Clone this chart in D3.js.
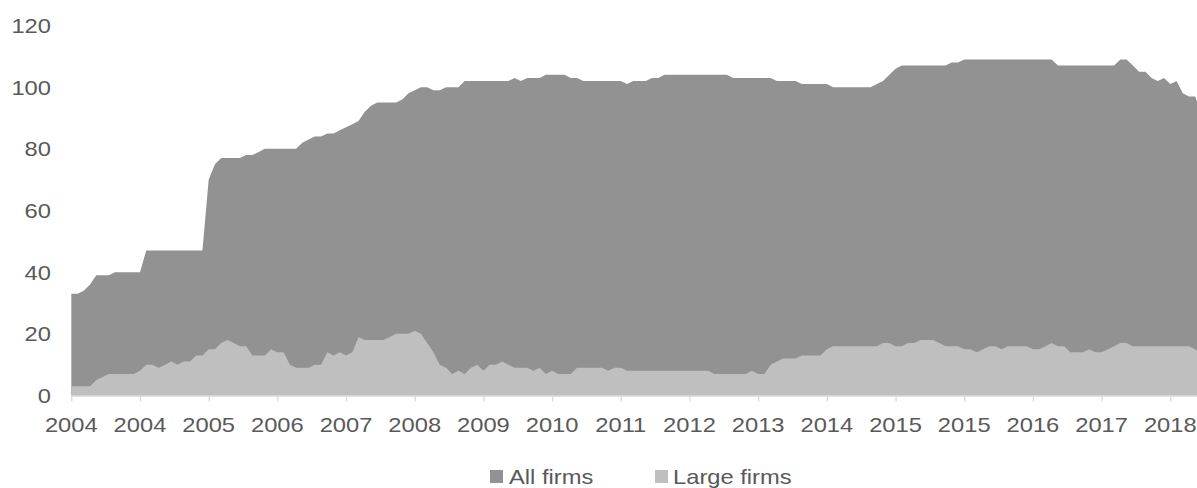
<!DOCTYPE html>
<html><head><meta charset="utf-8">
<script src="https://cdn.jsdelivr.net/npm/d3@7"></script>
<style>html,body{margin:0;padding:0;background:#fff;} svg{display:block;}</style>
</head><body><svg id="c" width="1197" height="488"></svg>
<script>
// ---- data (monthly, starting Jan 2004) ----
const startYear = 2004;
const allFirms = [
  33,33,34,36,39,39,39,40,40,40,40,40,
  47,47,47,47,47,47,47,47,47,47,70,75,
  77,77,77,77,78,78,79,80,80,80,80,80,
  80,82,83,84,84,85,85,86,87,88,89,92,
  94,95,95,95,95,96,98,99,100,100,99,99,
  100,100,100,102,102,102,102,102,102,102,102,103,
  102,103,103,103,104,104,104,104,103,103,102,102,
  102,102,102,102,102,101,102,102,102,103,103,104,
  104,104,104,104,104,104,104,104,104,104,103,103,
  103,103,103,103,103,102,102,102,102,101,101,101,
  101,101,100,100,100,100,100,100,100,101,102,104,
  106,107,107,107,107,107,107,107,107,108,108,109,
  109,109,109,109,109,109,109,109,109,109,109,109,
  109,109,107,107,107,107,107,107,107,107,107,107,
  109,109,107,105,105,103,102,103,101,102,98,97,
  97,91
];
const largeFirms = [
  3,3,3,3,5,6,7,7,7,7,7,8,
  10,10,9,10,11,10,11,11,13,13,15,15,
  17,18,17,16,16,13,13,13,15,14,14,10,
  9,9,9,10,10,14,13,14,13,14,19,18,
  18,18,18,19,20,20,20,21,20,17,14,10,
  9,7,8,7,9,10,8,10,10,11,10,9,
  9,9,8,9,7,8,7,7,7,9,9,9,
  9,9,8,9,9,8,8,8,8,8,8,8,
  8,8,8,8,8,8,8,7,7,7,7,7,
  7,8,7,7,10,11,12,12,12,13,13,13,
  13,15,16,16,16,16,16,16,16,16,17,17,
  16,16,17,17,18,18,18,17,16,16,16,15,
  15,14,15,16,16,15,16,16,16,16,15,15,
  16,17,16,16,14,14,14,15,14,14,15,16,
  17,17,16,16,16,16,16,16,16,16,16,16,
  15,13
];
const tickEvery = 11;
const tickLabels = ["2004","2004","2005","2006","2007","2008","2009","2010","2011",
                    "2012","2013","2014","2015","2015","2016","2017","2018"];
const yTicks = [0,20,40,60,80,100,120];
const seriesNames = ["All firms","Large firms"];

const categories = allFirms.map((_, i) =>
  `${startYear + Math.floor(i / 12)}-${String(i % 12 + 1).padStart(2, "0")}`);

// ---- styling / layout ----
const colors = {"All firms": "#929292", "Large firms": "#bfbfbf"};
const textColor = "#595959";
const fontFamily = "'Liberation Sans', Arial, sans-serif";
const fontSize = 21, stretch = 1.13;

const svg = d3.select("#c");
const x = d3.scalePoint().domain(categories).range([71.3, 71.3 + 6.2443 * (categories.length - 1)]);
const y = d3.scaleLinear().domain([0, 120]).range([395.5, 25.5]);

const area = d3.area()
  .x((d, i) => x(categories[i]))
  .y0(y(0))
  .y1(d => y(d));

svg.append("path").datum(allFirms).attr("d", area).attr("fill", colors["All firms"]);
svg.append("path").datum(largeFirms).attr("d", area).attr("fill", colors["Large firms"]);

// x axis
const tickCats = categories.filter((d, i) => i % tickEvery === 0);
const xAxis = d3.axisBottom(x).tickValues(tickCats).tickSize(6).tickSizeOuter(0).tickFormat(() => "");
const gx = svg.append("g").attr("transform", `translate(0,${y(0)})`).call(xAxis);
gx.select(".domain").attr("stroke", "#d9d9d9").attr("stroke-width", 1.3);
gx.selectAll(".tick line").attr("stroke", "#d9d9d9").attr("stroke-width", 1.3);

function stretchedText(g, tx, ty, str, anchor) {
  g.append("text")
    .attr("transform", `translate(${tx},${ty}) scale(${stretch},1)`)
    .attr("text-anchor", anchor)
    .attr("font-family", fontFamily)
    .attr("font-size", fontSize)
    .attr("fill", textColor)
    .text(str);
}

const labelsG = svg.append("g");
tickCats.forEach((c, i) => stretchedText(labelsG, x(c), y(0) + 36, tickLabels[i], "middle"));

// y axis labels (no line)
yTicks.forEach(v => stretchedText(labelsG, 51, y(v) + 7.5, String(v), "end"));

// legend
const legendPos = [{sx: 490, tx: 509}, {sx: 655, tx: 673}];
seriesNames.forEach((name, i) => {
  svg.append("rect").attr("x", legendPos[i].sx).attr("y", 470).attr("width", 13).attr("height", 13)
    .attr("fill", colors[name]);
  stretchedText(labelsG, legendPos[i].tx, 483.5, name, "start");
});
</script>
</body></html>
